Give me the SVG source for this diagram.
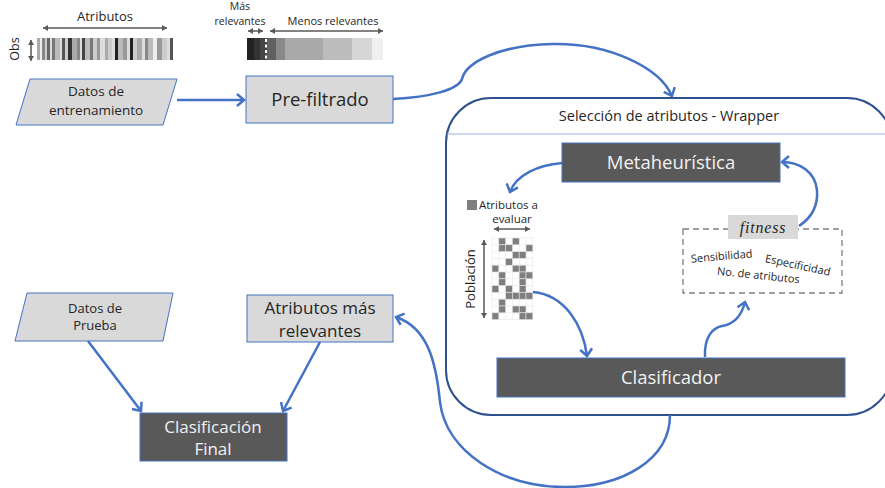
<svg xmlns="http://www.w3.org/2000/svg" width="885" height="488" viewBox="0 0 885 488">
  <style>
    .lbl { font-family: "Open Sans", "Noto Sans", sans-serif; fill: #262626; }
    .lbl-w { font-family: "Open Sans", "Noto Sans", sans-serif; fill: #f2f2f2; }
    .light { fill: #d9d9d9; stroke: #4472c4; stroke-width: 1; }
    .dark { fill: #595959; stroke: #4472c4; stroke-width: 1; }
    .conn { fill: none; stroke: #4472c4; stroke-width: 2.5; marker-end: url(#chev); }
    .dim { fill: none; stroke: #595959; stroke-width: 1.5; marker-start: url(#tri); marker-end: url(#tri); }
    .cell { fill: #ffffff; stroke: #e6e6e6; stroke-width: 0.6; }
    .on { fill: #7f7f7f; stroke: #e6e6e6; stroke-width: 0.6; }
  </style>
  <defs>
    <marker id="chev" viewBox="-10 -7 12 14" refX="0" refY="0" markerWidth="12" markerHeight="14" markerUnits="userSpaceOnUse" orient="auto">
      <path d="M-7,-6 L0,0 L-7,6" fill="none" stroke="#4472c4" stroke-width="2.5" stroke-linejoin="miter"/>
    </marker>
    <marker id="tri" viewBox="-6 -4 7 8" refX="0" refY="0" markerWidth="7" markerHeight="8" markerUnits="userSpaceOnUse" orient="auto-start-reverse">
      <path d="M-5,-3 L0,0 L-5,3 Z" fill="#595959"/>
    </marker>
  </defs>

  <!-- Training data: barcode-like matrix of attributes × observations -->
  <g id="matrix-train">
    <text class="lbl" x="105" y="21" font-size="13" text-anchor="middle">Atributos</text>
    <line class="dim" x1="43" y1="28" x2="167" y2="28"/>
    <line class="dim" x1="31" y1="40" x2="31" y2="61"/>
    <text class="lbl" x="0" y="0" font-size="12.5" text-anchor="middle" transform="translate(19,49) rotate(-90)">Obs</text>
    <g>
      <rect x="37" y="38" width="3" height="22" fill="#aaa"/>
      <rect x="40" y="38" width="2" height="22" fill="#eee"/>
      <rect x="42" y="38" width="3" height="22" fill="#888"/>
      <rect x="45" y="38" width="2" height="22" fill="#ccc"/>
      <rect x="47" y="38" width="3" height="22" fill="#666"/>
      <rect x="50" y="38" width="2" height="22" fill="#ddd"/>
      <rect x="52" y="38" width="3" height="22" fill="#777"/>
      <rect x="55" y="38" width="5" height="22" fill="#bbb"/>
      <rect x="60" y="38" width="2" height="22" fill="#ddd"/>
      <rect x="62" y="38" width="3" height="22" fill="#555"/>
      <rect x="65" y="38" width="3" height="22" fill="#ccc"/>
      <rect x="68" y="38" width="4" height="22" fill="#333"/>
      <rect x="72" y="38" width="5" height="22" fill="#aaa"/>
      <rect x="77" y="38" width="3" height="22" fill="#888"/>
      <rect x="80" y="38" width="2" height="22" fill="#ddd"/>
      <rect x="82" y="38" width="3" height="22" fill="#444"/>
      <rect x="85" y="38" width="5" height="22" fill="#bbb"/>
      <rect x="90" y="38" width="3" height="22" fill="#777"/>
      <rect x="93" y="38" width="4" height="22" fill="#ccc"/>
      <rect x="97" y="38" width="3" height="22" fill="#999"/>
      <rect x="100" y="38" width="5" height="22" fill="#ddd"/>
      <rect x="105" y="38" width="3" height="22" fill="#aaa"/>
      <rect x="108" y="38" width="4" height="22" fill="#ccc"/>
      <rect x="112" y="38" width="3" height="22" fill="#ddd"/>
      <rect x="115" y="38" width="3" height="22" fill="#222"/>
      <rect x="118" y="38" width="5" height="22" fill="#bbb"/>
      <rect x="123" y="38" width="4" height="22" fill="#999"/>
      <rect x="127" y="38" width="3" height="22" fill="#ddd"/>
      <rect x="130" y="38" width="3" height="22" fill="#222"/>
      <rect x="133" y="38" width="4" height="22" fill="#ccc"/>
      <rect x="137" y="38" width="5" height="22" fill="#aaa"/>
      <rect x="142" y="38" width="3" height="22" fill="#ddd"/>
      <rect x="145" y="38" width="3" height="22" fill="#888"/>
      <rect x="148" y="38" width="5" height="22" fill="#bbb"/>
      <rect x="153" y="38" width="4" height="22" fill="#eee"/>
      <rect x="157" y="38" width="5" height="22" fill="#999"/>
      <rect x="162" y="38" width="5" height="22" fill="#ccc"/>
      <rect x="167" y="38" width="3" height="22" fill="#ddd"/>
      <rect x="170" y="38" width="3" height="22" fill="#555"/>
    </g>
  </g>

  <!-- Ranking strip produced by the filter -->
  <g id="ranking">
    <text class="lbl" x="240" y="10" font-size="10.5" text-anchor="middle">Más</text>
    <text class="lbl" x="240" y="25" font-size="10.5" text-anchor="middle">relevantes</text>
    <text class="lbl" x="333" y="25" font-size="11" text-anchor="middle">Menos relevantes</text>
    <line class="dim" x1="248" y1="31" x2="263" y2="31"/>
    <line class="dim" x1="270" y1="31" x2="383" y2="31"/>
    <rect x="247" y="38" width="7" height="22" fill="#222"/>
    <rect x="254" y="38" width="6" height="22" fill="#333"/>
    <rect x="260" y="38" width="7" height="22" fill="#444"/>
    <rect x="267" y="38" width="9" height="22" fill="#606060"/>
    <rect x="276" y="38" width="9" height="22" fill="#888"/>
    <rect x="285" y="38" width="38" height="22" fill="#a9a9a9"/>
    <rect x="323" y="38" width="29" height="22" fill="#bcbcbc"/>
    <rect x="352" y="38" width="20" height="22" fill="#d6d6d6"/>
    <rect x="372" y="38" width="11" height="22" fill="#efefef"/>
    <line x1="266" y1="39" x2="266" y2="60" stroke="#ffffff" stroke-width="2" stroke-dasharray="3,2.5"/>
  </g>

  <g id="datos-entrenamiento">
    <polygon class="light" points="30,79 177,79 163,125 16,125"/>
    <text class="lbl" x="96" y="96" font-size="13.5" text-anchor="middle">Datos de</text>
    <text class="lbl" x="96" y="115" font-size="13.5" text-anchor="middle">entrenamiento</text>
  </g>

  <g id="pre-filtrado">
    <rect class="light" x="246" y="76" width="147" height="47"/>
    <text class="lbl" x="320" y="106" font-size="18.5" text-anchor="middle">Pre-filtrado</text>
  </g>

  <!-- Wrapper container -->
  <g id="wrapper">
    <rect x="446" y="98" width="446" height="317" rx="45" ry="45" fill="none" stroke="#2f528f" stroke-width="2"/>
    <line x1="447" y1="134" x2="885" y2="134" stroke="#9db3dc" stroke-width="1"/>
    <text class="lbl" x="669" y="121" font-size="14.5" text-anchor="middle">Selección de atributos - Wrapper</text>
  </g>

  <g id="metaheuristica">
    <rect class="dark" x="562" y="143" width="218" height="39"/>
    <text class="lbl-w" x="671" y="169" font-size="18.5" text-anchor="middle">Metaheurística</text>
  </g>

  <!-- Population of candidate attribute subsets -->
  <g id="poblacion">
    <rect x="467" y="200" width="10" height="10" fill="#7f7f7f"/>
    <text class="lbl" x="479" y="209" font-size="11.5">Atributos a</text>
    <text class="lbl" x="512" y="223" font-size="11.5" text-anchor="middle">evaluar</text>
    <line class="dim" x1="494" y1="229" x2="530" y2="229"/>
    <line class="dim" x1="484" y1="240" x2="484" y2="318"/>
    <text class="lbl" x="0" y="0" font-size="13" text-anchor="middle" transform="translate(475,279) rotate(-90)">Población</text>
    <g transform="translate(492,238)">
      <!-- 6 columns x 12 rows, cell 6.8 -->
      <g>
        <rect class="cell" x="0" y="0" width="40.8" height="81.6"/>
        <path d="M6.8,0V81.6M13.6,0V81.6M20.4,0V81.6M27.2,0V81.6M34,0V81.6M0,6.8H40.8M0,13.6H40.8M0,20.4H40.8M0,27.2H40.8M0,34H40.8M0,40.8H40.8M0,47.6H40.8M0,54.4H40.8M0,61.2H40.8M0,68H40.8M0,74.8H40.8" stroke="#e6e6e6" stroke-width="0.6" fill="none"/>
      </g>
      <rect class="on" x="6.8" y="0" width="6.8" height="6.8"/>
      <rect class="on" x="20.4" y="0" width="6.8" height="6.8"/>
      <rect class="on" x="6.8" y="6.8" width="6.8" height="6.8"/>
      <rect class="on" x="13.6" y="6.8" width="6.8" height="6.8"/>
      <rect class="on" x="34" y="6.8" width="6.8" height="6.8"/>
      <rect class="on" x="20.4" y="13.6" width="6.8" height="6.8"/>
      <rect class="on" x="27.2" y="13.6" width="6.8" height="6.8"/>
      <rect class="on" x="13.6" y="20.4" width="6.8" height="6.8"/>
      <rect class="on" x="0" y="27.2" width="6.8" height="6.8"/>
      <rect class="on" x="20.4" y="27.2" width="6.8" height="6.8"/>
      <rect class="on" x="27.2" y="27.2" width="6.8" height="6.8"/>
      <rect class="on" x="6.8" y="34" width="6.8" height="6.8"/>
      <rect class="on" x="27.2" y="34" width="6.8" height="6.8"/>
      <rect class="on" x="34" y="34" width="6.8" height="6.8"/>
      <rect class="on" x="6.8" y="40.8" width="6.8" height="6.8"/>
      <rect class="on" x="27.2" y="40.8" width="6.8" height="6.8"/>
      <rect class="on" x="0" y="47.6" width="6.8" height="6.8"/>
      <rect class="on" x="13.6" y="47.6" width="6.8" height="6.8"/>
      <rect class="on" x="27.2" y="47.6" width="6.8" height="6.8"/>
      <rect class="on" x="13.6" y="54.4" width="6.8" height="6.8"/>
      <rect class="on" x="20.4" y="54.4" width="6.8" height="6.8"/>
      <rect class="on" x="27.2" y="54.4" width="6.8" height="6.8"/>
      <rect class="on" x="34" y="54.4" width="6.8" height="6.8"/>
      <rect class="on" x="6.8" y="61.2" width="6.8" height="6.8"/>
      <rect class="on" x="6.8" y="68" width="6.8" height="6.8"/>
      <rect class="on" x="20.4" y="68" width="6.8" height="6.8"/>
      <rect class="on" x="27.2" y="68" width="6.8" height="6.8"/>
      <rect class="on" x="0" y="74.8" width="6.8" height="6.8"/>
      <rect class="on" x="27.2" y="74.8" width="6.8" height="6.8"/>
      <rect class="on" x="34" y="74.8" width="6.8" height="6.8"/>
    </g>
  </g>

  <!-- Fitness criteria -->
  <g id="fitness">
    <rect x="683" y="229" width="159" height="64" fill="none" stroke="#7f7f7f" stroke-width="1.3" stroke-dasharray="6,4"/>
    <rect x="728" y="215" width="70" height="24" fill="#d9d9d9"/>
    <text x="763" y="233" font-family="Liberation Serif, serif" font-style="italic" font-size="16" letter-spacing="0.8" fill="#262626" text-anchor="middle">fitness</text>
    <text class="lbl" x="0" y="0" font-size="11" text-anchor="middle" transform="translate(722,260) rotate(-5)">Sensibilidad</text>
    <text class="lbl" x="0" y="0" font-size="11" text-anchor="middle" transform="translate(797,269) rotate(12)">Especificidad</text>
    <text class="lbl" x="0" y="0" font-size="11" text-anchor="middle" transform="translate(758,279) rotate(6)">No. de atributos</text>
  </g>

  <g id="clasificador">
    <rect class="dark" x="497" y="358" width="348" height="39"/>
    <text class="lbl-w" x="671" y="384" font-size="18.5" text-anchor="middle">Clasificador</text>
  </g>

  <g id="datos-prueba">
    <polygon class="light" points="27,293 173,293 163,341 15,341"/>
    <text class="lbl" x="95" y="313" font-size="13" text-anchor="middle">Datos de</text>
    <text class="lbl" x="95" y="330" font-size="13" text-anchor="middle">Prueba</text>
  </g>

  <g id="atributos-relevantes">
    <rect class="light" x="247" y="295" width="146" height="47"/>
    <text class="lbl" x="320" y="314" font-size="17" text-anchor="middle">Atributos más</text>
    <text class="lbl" x="320" y="337" font-size="17" text-anchor="middle">relevantes</text>
  </g>

  <g id="clasificacion-final">
    <rect class="dark" x="140" y="413" width="147" height="48"/>
    <text class="lbl-w" x="213" y="433" font-size="17" text-anchor="middle">Clasificación</text>
    <text class="lbl-w" x="213" y="455" font-size="17" text-anchor="middle">Final</text>
  </g>

  <!-- Connectors -->
  <g id="connectors">
    <path class="conn" d="M177,100 L244,100"/>
    <path class="conn" d="M393,99 C430,97 458,90 462,79 C466,62 500,45 553,44 C610,43 660,68 672,96"/>
    <path class="conn" d="M562,163 C538,165 516,175 510,192"/>
    <path class="conn" d="M533,292 C565,295 583,325 587,356"/>
    <path class="conn" d="M705,357 C704,338 712,328 722,326 C735,324 742,314 745,302"/>
    <path class="conn" d="M799,226 C814,216 818,202 817,190 C815,172 800,162 782,162"/>
    <path class="conn" d="M670,415 C670,460 622,487 565,487 C502,487 446,452 440,402 C436,362 428,328 396,317"/>
    <path class="conn" d="M88,341 L141,411"/>
    <path class="conn" d="M320,342 L283,411"/>
  </g>
</svg>
